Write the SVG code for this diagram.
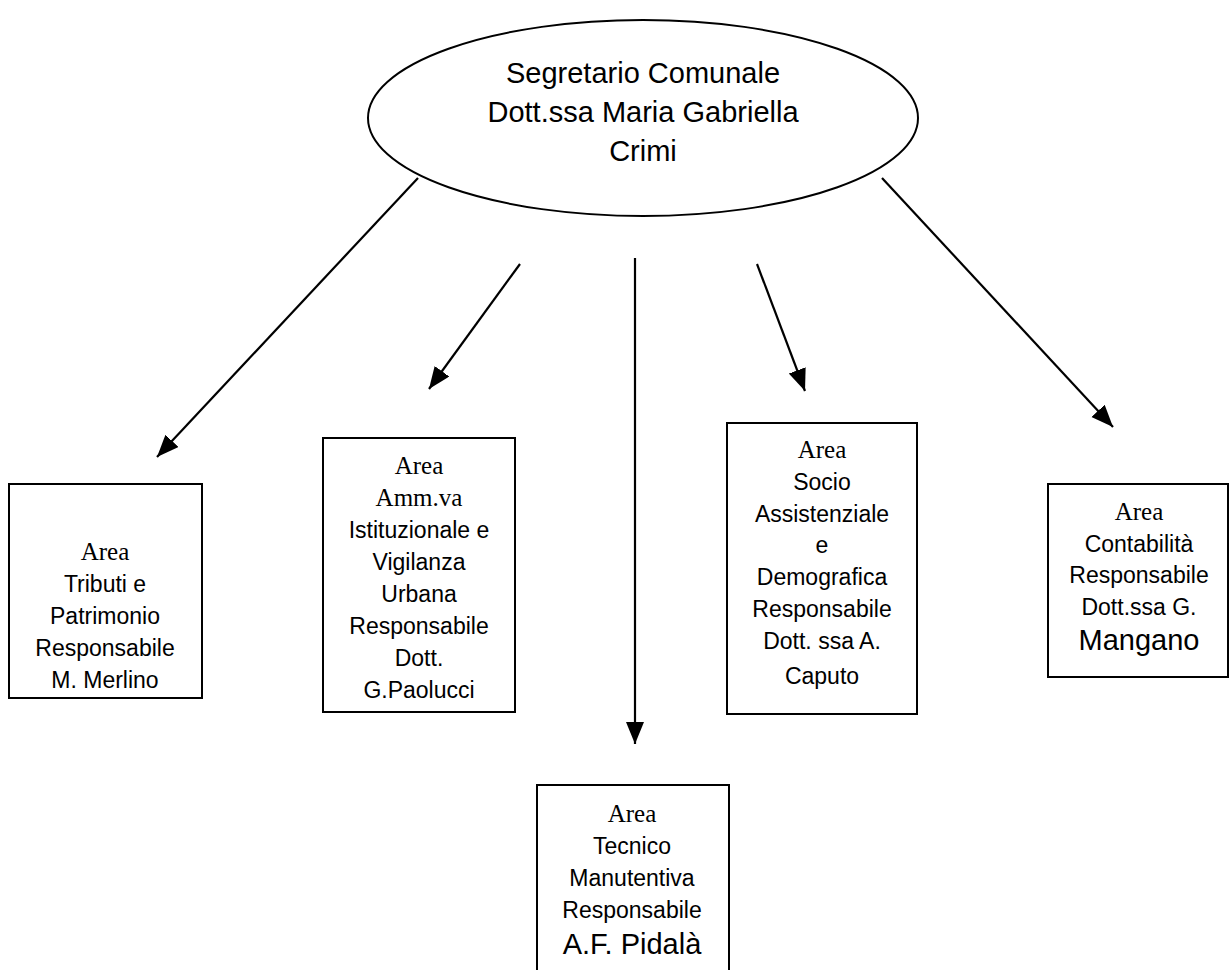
<svg xmlns="http://www.w3.org/2000/svg" width="1230" height="970" viewBox="0 0 1230 970">
<style>
.shape{fill:#fff;stroke:#000;stroke-width:2}
.t{font-family:"Liberation Sans",Arial,sans-serif;font-size:23px;text-anchor:middle;fill:#000}
.big{font-size:29px}
.hd{font-family:"Liberation Serif","Times New Roman",serif;font-size:25px;text-anchor:middle;fill:#000}
.conn{stroke:#000;stroke-width:2.2;fill:none}
</style>
<defs>
<marker id="ah" markerUnits="userSpaceOnUse" markerWidth="24" markerHeight="20" refX="22" refY="9" orient="auto">
<path d="M0,0 L22,9 L0,18 Z" fill="#000"/>
</marker>
</defs>
<rect width="1230" height="970" fill="#fff"/>
<g id="connectors">
<line class="conn" x1="418" y1="178" x2="157" y2="457" marker-end="url(#ah)"/>
<line class="conn" x1="520" y1="264" x2="429" y2="389" marker-end="url(#ah)"/>
<line class="conn" x1="635" y1="258" x2="635" y2="744" marker-end="url(#ah)"/>
<line class="conn" x1="757" y1="264" x2="805" y2="391" marker-end="url(#ah)"/>
<line class="conn" x1="882" y1="178" x2="1113" y2="427" marker-end="url(#ah)"/>
</g>
<g id="segretario">
<ellipse class="shape" cx="643" cy="118" rx="275" ry="98"/>
<text class="t" style="font-size:29px" x="643" y="83">Segretario Comunale</text>
<text class="t" style="font-size:29px" x="643" y="122">Dott.ssa Maria Gabriella</text>
<text class="t" style="font-size:29px" x="643" y="161">Crimi</text>
</g>
<g id="area-tributi">
<rect class="shape" x="9" y="484" width="193" height="214"/>
<text class="hd" x="105" y="560">Area</text>
<text class="t" x="105" y="592">Tributi e</text>
<text class="t" x="105" y="624">Patrimonio</text>
<text class="t" x="105" y="656">Responsabile</text>
<text class="t" x="105" y="688">M. Merlino</text>
</g>
<g id="area-amministrativa">
<rect class="shape" x="323" y="438" width="192" height="274"/>
<text class="hd" x="419" y="474">Area</text>
<text class="hd" x="419" y="506">Amm.va</text>
<text class="t" x="419" y="538">Istituzionale e</text>
<text class="t" x="419" y="570">Vigilanza</text>
<text class="t" x="419" y="602">Urbana</text>
<text class="t" x="419" y="634">Responsabile</text>
<text class="t" x="419" y="666">Dott.</text>
<text class="t" x="419" y="698">G.Paolucci</text>
</g>
<g id="area-tecnica">
<rect class="shape" x="537" y="785" width="192" height="195"/>
<text class="hd" x="632" y="822">Area</text>
<text class="t" x="632" y="854">Tecnico</text>
<text class="t" x="632" y="886">Manutentiva</text>
<text class="t" x="632" y="918">Responsabile</text>
<text class="t big" x="632" y="954">A.F. Pidalà</text>
</g>
<g id="area-socio">
<rect class="shape" x="727" y="423" width="190" height="291"/>
<text class="hd" x="822" y="458">Area</text>
<text class="t" x="822" y="490">Socio</text>
<text class="t" x="822" y="522">Assistenziale</text>
<text class="t" x="822" y="553">e</text>
<text class="t" x="822" y="585">Demografica</text>
<text class="t" x="822" y="617">Responsabile</text>
<text class="t" x="822" y="649">Dott. ssa A.</text>
<text class="t" x="822" y="684">Caputo</text>
</g>
<g id="area-contabilita">
<rect class="shape" x="1048" y="484" width="180" height="193"/>
<text class="hd" x="1139" y="520">Area</text>
<text class="t" x="1139" y="552">Contabilità</text>
<text class="t" x="1139" y="583">Responsabile</text>
<text class="t" x="1139" y="615">Dott.ssa G.</text>
<text class="t big" x="1139" y="650">Mangano</text>
</g>
</svg>
